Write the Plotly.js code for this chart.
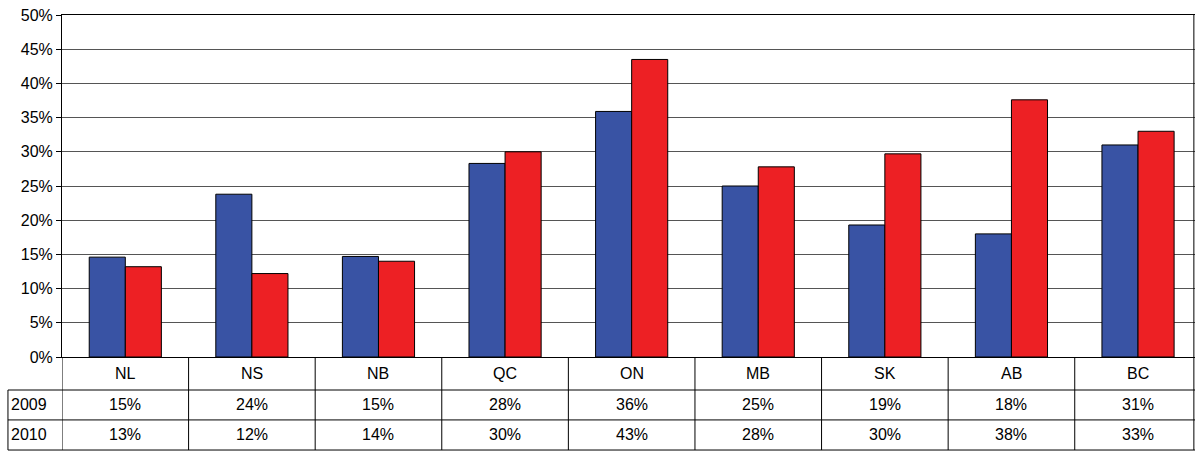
<!DOCTYPE html>
<html><head><script src="https://cdn.plot.ly/plotly-3.0.1.min.js"></script></head>
<body style="margin:0"><div id="chart" style="width:1195px;height:451px"></div>
<script>
var provinces = ['NL','NS','NB','QC','ON','MB','SK','AB','BC'];
var values2009 = [14.6,23.8,14.7,28.3,35.9,25.0,19.3,18.0,31.0];
var values2010 = [13.2,12.2,14.0,30.0,43.5,27.8,29.7,37.6,33.0];
var labels2009 = ['15%','24%','15%','28%','36%','25%','19%','18%','31%'];
var labels2010 = ['13%','12%','14%','30%','43%','28%','30%','38%','33%'];

var font = {family:'Liberation Sans, Arial, sans-serif', size:16, color:'#000'};
var idx = provinces.map(function(p,i){return i;});

var traces = [
  {type:'bar', x:idx, y:values2009, name:'2009', marker:{color:'#3953A4', line:{color:'#000', width:1}}},
  {type:'bar', x:idx, y:values2010, name:'2010', marker:{color:'#ED2024', line:{color:'#000', width:1}}}
];

var rowY = [-0.0965, -0.184, -0.272];
var leftX = -0.0477;
var shapes = [], ann = [];
// table grid
rowY.forEach(function(y){
  shapes.push({type:'line', xref:'paper', yref:'paper', x0:leftX, x1:1, y0:y, y1:y, line:{color:'#000', width:1}});
});
shapes.push({type:'line', xref:'paper', yref:'paper', x0:leftX, x1:leftX, y0:rowY[0], y1:rowY[2], line:{color:'#000', width:1}});
for (var i = 0; i < provinces.length; i++) {
  shapes.push({type:'line', xref:'x', yref:'paper', x0:i-0.5, x1:i-0.5, y0:0, y1:rowY[2], line:{color:'#000', width:1}});
}
shapes.push({type:'line', xref:'paper', yref:'paper', x0:0.999, x1:0.999, y0:1, y1:rowY[2], line:{color:'#000', width:1}});
function cell(x, y, xref, text, xanchor) {
  ann.push({x:x, y:y, xref:xref, yref:'paper', text:text, showarrow:false, font:font,
            xanchor:xanchor || 'center', yanchor:'middle'});
}
provinces.forEach(function(p, i){
  cell(i, (0+rowY[0])/2, 'x', p);
  cell(i, (rowY[0]+rowY[1])/2, 'x', labels2009[i]);
  cell(i, (rowY[1]+rowY[2])/2, 'x', labels2010[i]);
});
cell(leftX+0.001, (rowY[0]+rowY[1])/2, 'paper', '2009', 'left');
cell(leftX+0.001, (rowY[1]+rowY[2])/2, 'paper', '2010', 'left');

var layout = {
  width:1195, height:451,
  margin:{l:62, r:0, t:15, b:94},
  paper_bgcolor:'#fff', plot_bgcolor:'#fff',
  showlegend:false,
  barmode:'group', bargap:0.43, bargroupgap:0,
  font:font,
  xaxis:{range:[-0.5,8.45], showticklabels:false, showgrid:false, zeroline:false, showline:true, linecolor:'#000', mirror:true},
  yaxis:{range:[0,50], dtick:5, ticksuffix:'%', showgrid:true, gridcolor:'#555', gridwidth:1, zeroline:false,
         showline:true, linecolor:'#000', ticks:'outside', ticklen:5, tickcolor:'#000'},
  shapes:shapes, annotations:ann
};
Plotly.newPlot('chart', traces, layout, {displayModeBar:false});
</script></body></html>
